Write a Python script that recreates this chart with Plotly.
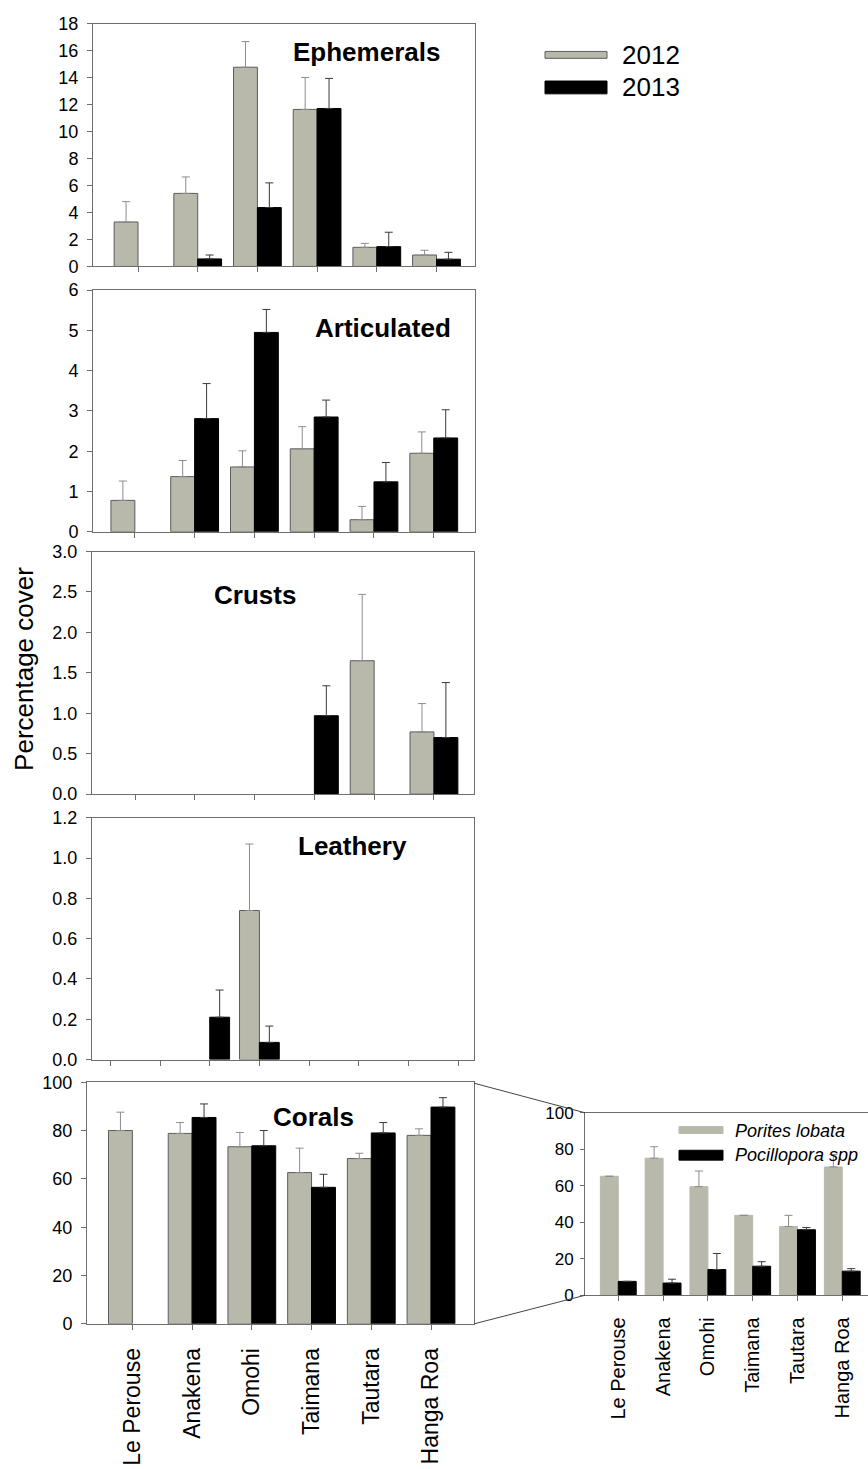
import plotly.graph_objects as go

SITES = ["Le Perouse", "Anakena", "Omohi", "Taimana", "Tautara", "Hanga Roa"]
YEARS = ["2012", "2013"]

# Ephemerals
eph_2012 = [3.30, 5.42, 14.78, 11.65, 1.42, 0.85]
eph_2012_se = [1.51, 1.22, 1.90, 2.37, 0.29, 0.35]
eph_2013 = [None, 0.56, 4.37, 11.72, 1.47, 0.54]
eph_2013_se = [0, 0.29, 1.83, 2.23, 1.07, 0.51]

# Articulated
art_2012 = [0.78, 1.37, 1.61, 2.06, 0.30, 1.95]
art_2012_se = [0.48, 0.40, 0.40, 0.55, 0.33, 0.53]
art_2013 = [None, 2.81, 4.95, 2.85, 1.24, 2.33]
art_2013_se = [0, 0.87, 0.57, 0.42, 0.48, 0.70]

# Crusts
cru_2012 = [None, None, None, None, 1.65, 0.77]
cru_2012_se = [0, 0, 0, 0, 0.82, 0.35]
cru_2013 = [None, None, None, 0.97, None, 0.70]
cru_2013_se = [0, 0, 0, 0.37, 0, 0.68]

# Leathery
lea_2012 = [None, None, 0.74, None, None, None]
lea_2012_se = [0, 0, 0.33, 0, 0, 0]
lea_2013 = [None, 0.21, 0.085, None, None, None]
lea_2013_se = [0, 0.135, 0.081, 0, 0, 0]

# Corals
cor_2012 = [80.0, 78.8, 73.3, 62.6, 68.4, 78.0]
cor_2012_se = [7.6, 4.5, 5.9, 10.1, 2.2, 2.7]
cor_2013 = [None, 85.4, 73.7, 56.5, 79.0, 89.7]
cor_2013_se = [0, 5.6, 6.3, 5.4, 4.3, 3.9]

# Inset: coral species
SPECIES = ["Porites lobata", "Pocillopora spp"]
por = [65.2, 75.1, 59.5, 43.8, 37.7, 70.3]
por_se = [0, 6.3, 8.6, 0, 6.1, 6.8]
poc = [7.6, 6.7, 14.1, 15.9, 35.9, 13.2]
poc_se = [0, 2.1, 8.8, 2.5, 1.2, 1.4]

GRAY = "#b8b8ab"
GRAY_EDGE = "#5c5c5c"
GRAY_ERR = "#8c8c8c"
BLACK = "#000000"
AXIS = "#6e6e6e"
FONT = "Liberation Sans, Arial, sans-serif"

W, H = 868, 1469


def px(x):
    return x / W


def py(y):
    return 1 - y / H


fig = go.Figure()

panels = [
    ("Ephemerals", eph_2012, eph_2012_se, eph_2013, eph_2013_se, 0),
    ("Articulated", art_2012, art_2012_se, art_2013, art_2013_se, 0),
    ("Crusts", cru_2012, cru_2012_se, cru_2013, cru_2013_se, 0),
    ("Leathery", lea_2012, lea_2012_se, lea_2013, lea_2013_se, 1),
    ("Corals", cor_2012, cor_2012_se, cor_2013, cor_2013_se, 0),
]

for k, (name, v1, e1, v2, e2, shift) in enumerate(panels):
    idx = "" if k == 0 else str(k + 1)
    xs = [i + shift for i in range(len(SITES))]
    fig.add_trace(go.Bar(
        x=xs, y=v1, name=YEARS[0], xaxis="x" + idx, yaxis="y" + idx,
        marker=dict(color=GRAY, line=dict(color=GRAY_EDGE, width=1)),
        error_y=dict(type="data", symmetric=False, array=e1,
                     arrayminus=[0] * len(e1), color=GRAY_ERR,
                     thickness=1, width=4),
        showlegend=False))
    fig.add_trace(go.Bar(
        x=xs, y=v2, name=YEARS[1], xaxis="x" + idx, yaxis="y" + idx,
        marker=dict(color=BLACK, line=dict(color=BLACK, width=1)),
        error_y=dict(type="data", symmetric=False, array=e2,
                     arrayminus=[0] * len(e2), color="#3a3a3a",
                     thickness=1, width=4),
        showlegend=False))

# inset
fig.add_trace(go.Bar(
    x=list(range(len(SITES))), y=por, name=SPECIES[0], xaxis="x6", yaxis="y6",
    marker=dict(color=GRAY, line=dict(color=GRAY, width=1)),
    error_y=dict(type="data", symmetric=False, array=por_se,
                 arrayminus=[0] * len(por_se), color=GRAY_ERR,
                 thickness=1, width=4),
    showlegend=False))
fig.add_trace(go.Bar(
    x=list(range(len(SITES))), y=poc, name=SPECIES[1], xaxis="x6", yaxis="y6",
    marker=dict(color=BLACK, line=dict(color=BLACK, width=1)),
    error_y=dict(type="data", symmetric=False, array=poc_se,
                 arrayminus=[0] * len(poc_se), color="#3a3a3a",
                 thickness=1, width=4),
    showlegend=False))

# panel geometry in pixels: (left, right, top, bottom, xmin, xmax, ymax, dtick, fmt)
geom = [
    (93, 475, 14, 260, -0.754, 5.645, 18, 2, None),
    (93, 475, 284, 529, -0.70, 5.69, 6, 1, None),
    (92, 474, 549, 795, -0.72, 5.67, 3.0, 0.5, ".1f"),
    (92, 474, 819, 1064, -0.37, 7.32, 1.2, 0.2, ".1f"),
    (87, 474, 1087, 1332, -0.76, 5.72, 100, 20, None),
]

layout = dict(
    width=W, height=H,
    margin=dict(l=0, r=0, t=0, b=0),
    paper_bgcolor="white", plot_bgcolor="white",
    barmode="group", bargap=0.2, bargroupgap=0,
    font=dict(family=FONT, color="black", size=17),
    showlegend=False,
)

for k, (l, r, t, b, x0, x1, ymax, dt, fmt) in enumerate(geom):
    idx = "" if k == 0 else str(k + 1)
    if k == 3:
        tickvals = list(range(8))
    else:
        tickvals = list(range(len(SITES)))
    xa = dict(
        domain=[px(l), px(r)], range=[x0, x1], anchor="y" + idx,
        showline=True, linecolor=AXIS, linewidth=1, mirror=True,
        ticks="outside", ticklen=5, tickcolor=AXIS, tickwidth=1,
        tickvals=tickvals, showgrid=False, zeroline=False,
        showticklabels=False, fixedrange=True,
    )
    if k == 4:
        xa.update(showticklabels=True, ticktext=SITES, tickangle=-90,
                  tickfont=dict(size=23, family=FONT, color="black"),
                  ticklabelstandoff=9)
    ya = dict(
        domain=[py(b), py(t)], range=[0, ymax], anchor="x" + idx,
        showline=True, linecolor=AXIS, linewidth=1, mirror=True,
        ticks="outside", ticklen=5, tickcolor=AXIS, tickwidth=1,
        dtick=dt, tick0=0, showgrid=False, zeroline=False,
        tickfont=dict(size=18, family=FONT, color="black"),
        ticklabelstandoff=5, fixedrange=True,
    )
    if fmt:
        ya["tickformat"] = fmt
    layout["xaxis" + idx] = xa
    layout["yaxis" + idx] = ya

# inset axes
layout["xaxis6"] = dict(
    domain=[px(585), 1.0], range=[-0.743, 5.574], anchor="y6",
    showline=True, linecolor=AXIS, linewidth=1, mirror=True,
    ticks="outside", ticklen=5, tickcolor=AXIS, tickwidth=1,
    tickvals=list(range(len(SITES))), ticktext=SITES, tickangle=-90,
    tickfont=dict(size=20, family=FONT, color="black"),
    ticklabelstandoff=8, showgrid=False, zeroline=False, fixedrange=True,
)
layout["yaxis6"] = dict(
    domain=[py(1303), py(1118)], range=[0, 100], anchor="x6",
    showline=True, linecolor=AXIS, linewidth=1, mirror=False,
    ticks="outside", ticklen=4, tickcolor=AXIS, tickwidth=1,
    dtick=20, tick0=0, showgrid=False, zeroline=False,
    tickfont=dict(size=17, family=FONT, color="black"),
    ticklabelstandoff=3, fixedrange=True,
)

annotations = []
titles = [("Ephemerals", 366, 43), ("Articulated", 383, 322),
          ("Crusts", 255, 593), ("Leathery", 352, 848), ("Corals", 313, 1122)]
for txt, cx, cy in titles:
    annotations.append(dict(
        text="<b>%s</b>" % txt, x=px(cx), y=py(cy), xref="paper", yref="paper",
        xanchor="center", yanchor="middle", showarrow=False,
        font=dict(size=26, family=FONT, color="black")))

annotations.append(dict(
    text="Percentage cover", x=px(24), y=py(668), xref="paper", yref="paper",
    xanchor="center", yanchor="middle", textangle=-90, showarrow=False,
    font=dict(size=26, family=FONT, color="black")))

# main legend
shapes = []
shapes.append(dict(type="rect", xref="paper", yref="paper",
                   x0=px(545), x1=px(607), y0=py(49), y1=py(42),
                   fillcolor=GRAY, line=dict(color=GRAY_EDGE, width=1)))
shapes.append(dict(type="rect", xref="paper", yref="paper",
                   x0=px(545), x1=px(607), y0=py(85), y1=py(72),
                   fillcolor=BLACK, line=dict(color=BLACK, width=1)))
annotations.append(dict(text=YEARS[0], x=px(620), y=py(46), xref="paper",
                        yref="paper", xanchor="left", yanchor="middle",
                        showarrow=False,
                        font=dict(size=26, family=FONT, color="black")))
annotations.append(dict(text=YEARS[1], x=px(620), y=py(78), xref="paper",
                        yref="paper", xanchor="left", yanchor="middle",
                        showarrow=False,
                        font=dict(size=26, family=FONT, color="black")))

# inset legend
shapes.append(dict(type="rect", xref="paper", yref="paper",
                   x0=px(679), x1=px(723), y0=py(1139), y1=py(1132),
                   fillcolor=GRAY, line=dict(color=GRAY, width=1)))
shapes.append(dict(type="rect", xref="paper", yref="paper",
                   x0=px(679), x1=px(723), y0=py(1166), y1=py(1156),
                   fillcolor=BLACK, line=dict(color=BLACK, width=1)))
annotations.append(dict(text="<i>%s</i>" % SPECIES[0], x=px(733), y=py(1136),
                        xref="paper", yref="paper", xanchor="left",
                        yanchor="middle", showarrow=False,
                        font=dict(size=18, family=FONT, color="black")))
annotations.append(dict(text="<i>%s</i>" % SPECIES[1], x=px(733), y=py(1161),
                        xref="paper", yref="paper", xanchor="left",
                        yanchor="middle", showarrow=False,
                        font=dict(size=18, family=FONT, color="black")))

# connector lines from Corals panel to inset
shapes.append(dict(type="line", xref="paper", yref="paper",
                   x0=px(474), y0=py(1088), x1=px(585), y1=py(1118),
                   line=dict(color="#444444", width=1)))
shapes.append(dict(type="line", xref="paper", yref="paper",
                   x0=px(474), y0=py(1332), x1=px(585), y1=py(1303),
                   line=dict(color="#444444", width=1)))

layout["annotations"] = annotations
layout["shapes"] = shapes
fig.update_layout(**layout)

fig.write_html("out.html")
